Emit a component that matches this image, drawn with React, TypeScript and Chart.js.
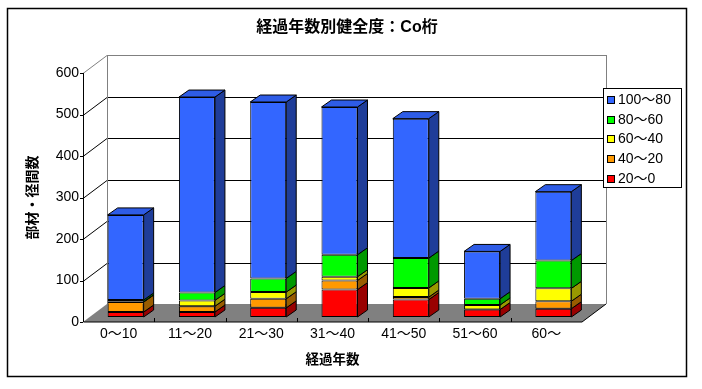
import React, { useEffect, useRef } from "react";
import { Chart, registerables } from "chart.js";

Chart.register(...registerables);

const categories = ["0～10", "11～20", "21～30", "31～40", "41～50", "51～60", "60～"];
const seriesLabels = ["20～0", "40～20", "60～40", "80～60", "100～80"];
const s20to0 = [12, 12, 22, 66, 42, 18, 20];
const s40to20 = [24, 14, 22, 22, 6, 0, 18];
const s60to40 = [1, 14, 16, 9, 22, 11, 31];
const s80to60 = [4, 19, 33, 53, 72, 15, 67];
const s100to80 = [205, 471, 425, 356, 336, 114, 166];
const yTicks = [0, 100, 200, 300, 400, 500, 600];

const frontColors = ["#FF0000", "#FF9900", "#FFFF00", "#00FF00", "#3366FF"];
const sideColors = ["#990000", "#995C00", "#999900", "#009900", "#1F3D99"];
const topColor = "#2E5CE6";

const FONT = "'Liberation Sans', 'Noto Sans CJK JP', sans-serif";
const DX = 24, DY = 18; // full floor depth
const BX = 7, BY = 5; // bar front offset from axis plane
const SX = 10, SY = 7; // bar depth

const threeD = {
  id: "threeD",
  beforeDraw(chart: any) {
    const ctx = chart.ctx;
    ctx.save();
    ctx.fillStyle = "#FFFFFF";
    ctx.fillRect(0, 0, chart.width, chart.height);
    ctx.strokeStyle = "#000";
    ctx.lineWidth = 1.5;
    ctx.strokeRect(7.5, 8.5, 679, 368);
    ctx.fillStyle = "#000";
    ctx.font = "bold 16px " + FONT;
    ctx.textAlign = "center";
    ctx.textBaseline = "middle";
    ctx.fillText("経過年数別健全度：Co桁", 347, 28);
    ctx.restore();
  },
  beforeDatasetsDraw(chart: any) {
    const ctx = chart.ctx;
    const { left, right, top, bottom } = chart.chartArea;
    const ys = chart.scales.y;
    ctx.save();
    ctx.fillStyle = "#808080";
    ctx.beginPath();
    ctx.moveTo(left, bottom);
    ctx.lineTo(right, bottom);
    ctx.lineTo(right + DX, bottom - DY);
    ctx.lineTo(left + DX, bottom - DY);
    ctx.closePath();
    ctx.fill();
    ctx.lineWidth = 1;
    yTicks.forEach((v) => {
      if (v === 0) return;
      const y = Math.round(ys.getPixelForValue(v)) + 0.5;
      ctx.strokeStyle = v === 600 ? "#808080" : "#000";
      ctx.beginPath();
      ctx.moveTo(left + DX, y - DY);
      ctx.lineTo(right + DX, y - DY);
      ctx.stroke();
      ctx.beginPath();
      ctx.moveTo(left, y);
      ctx.lineTo(left + DX, y - DY);
      ctx.stroke();
    });
    ctx.strokeStyle = "#808080";
    ctx.beginPath();
    ctx.moveTo(left + DX + 0.5, top - DY);
    ctx.lineTo(left + DX + 0.5, bottom - DY);
    ctx.moveTo(right + DX + 0.5, top - DY);
    ctx.lineTo(right + DX + 0.5, bottom - DY);
    ctx.stroke();
    ctx.strokeStyle = "#000";
    ctx.beginPath();
    ctx.moveTo(right, bottom);
    ctx.lineTo(right + DX, bottom - DY);
    ctx.stroke();
    ctx.beginPath();
    ctx.moveTo(left + 0.5, top);
    ctx.lineTo(left + 0.5, bottom);
    ctx.lineTo(right, bottom);
    ctx.stroke();
    yTicks.forEach((v) => {
      const y = Math.round(ys.getPixelForValue(v)) + 0.5;
      ctx.beginPath();
      ctx.moveTo(left - 3, y);
      ctx.lineTo(left, y);
      ctx.stroke();
    });
    const n = categories.length;
    for (let i = 1; i < n; i++) {
      const x = Math.round(left + ((right - left) * i) / n) + 0.5;
      ctx.beginPath();
      ctx.moveTo(x, bottom - 4);
      ctx.lineTo(x, bottom);
      ctx.stroke();
    }
    ctx.restore();
    ctx.save();
    ctx.translate(BX, -BY);
  },
  afterDatasetsDraw(chart: any) {
    const ctx = chart.ctx;
    ctx.lineWidth = 1;
    ctx.strokeStyle = "#000";
    const nDs = chart.data.datasets.length;
    for (let d = 0; d < nDs; d++) {
      const meta = chart.getDatasetMeta(d);
      meta.data.forEach((el: any, i: number) => {
        const v = chart.data.datasets[d].data[i];
        if (!v) return;
        const { x, y, base, width } = el.getProps(["x", "y", "base", "width"], true);
        const xr = x + width / 2;
        ctx.fillStyle = sideColors[d];
        ctx.beginPath();
        ctx.moveTo(xr, y);
        ctx.lineTo(xr + SX, y - SY);
        ctx.lineTo(xr + SX, base - SY);
        ctx.lineTo(xr, base);
        ctx.closePath();
        ctx.fill();
        ctx.stroke();
        let isTop = true;
        for (let k = d + 1; k < nDs; k++) if (chart.data.datasets[k].data[i]) isTop = false;
        if (isTop) {
          const xl = x - width / 2;
          ctx.fillStyle = topColor;
          ctx.beginPath();
          ctx.moveTo(xl, y);
          ctx.lineTo(xl + SX, y - SY);
          ctx.lineTo(xr + SX, y - SY);
          ctx.lineTo(xr, y);
          ctx.closePath();
          ctx.fill();
          ctx.stroke();
        }
      });
    }
    ctx.restore();
  },
  afterDraw(chart: any) {
    const ctx = chart.ctx;
    ctx.save();
    ctx.fillStyle = "#FFF";
    ctx.fillRect(603, 88, 78, 99);
    ctx.strokeStyle = "#000";
    ctx.lineWidth = 1;
    ctx.strokeRect(603.5, 88.5, 78, 99);
    ctx.font = "14px " + FONT;
    ctx.textBaseline = "middle";
    ctx.textAlign = "left";
    const nDs = chart.data.datasets.length;
    for (let j = 0; j < nDs; j++) {
      const d = nDs - 1 - j;
      const ds = chart.data.datasets[d];
      const cy = 100 + j * 19.7;
      ctx.fillStyle = ds.backgroundColor;
      ctx.fillRect(607, Math.round(cy - 4), 8, 8);
      ctx.strokeRect(607.5, Math.round(cy - 4) + 0.5, 7, 7);
      ctx.fillStyle = "#000";
      ctx.fillText(ds.label, 618, cy);
    }
    ctx.restore();
  },
};

export default function App() {
  const ref = useRef<HTMLCanvasElement>(null);
  useEffect(() => {
    if (!ref.current) return;
    const seriesData = [s20to0, s40to20, s60to40, s80to60, s100to80];
    const chart = new Chart(ref.current, {
      type: "bar",
      data: {
        labels: categories,
        datasets: seriesData.map((arr, i) => ({
          label: seriesLabels[i],
          data: arr,
          backgroundColor: frontColors[i],
          borderColor: "#000",
          borderWidth: 1,
          borderSkipped: false,
          categoryPercentage: 1,
          barPercentage: 0.505,
          clip: false as any,
        })),
      },
      options: {
        responsive: false,
        animation: false,
        layout: { padding: { left: 24, right: 120, top: 73, bottom: 17 } },
        plugins: { legend: { display: false }, title: { display: false }, tooltip: { enabled: false } },
        scales: {
          x: {
            stacked: true,
            grid: { display: false, drawTicks: false },
            border: { display: false },
            ticks: { color: "#000", font: { family: FONT, size: 14 }, padding: 4, maxRotation: 0 },
            title: { display: true, text: "経過年数", color: "#000", font: { family: FONT, size: 13.5, weight: "bold" }, padding: { top: 0, bottom: 4 } },
            afterFit: (s: any) => { s.height = 50; },
          },
          y: {
            stacked: true,
            min: 0,
            max: 600,
            grid: { display: false, drawTicks: false },
            border: { display: false },
            ticks: { stepSize: 100, color: "#000", font: { family: FONT, size: 14 }, padding: 4 },
            title: { display: true, text: "部材・径間数", color: "#000", font: { family: FONT, size: 14, weight: "bold" }, padding: { top: 0.6, bottom: 0 } },
            afterFit: (s: any) => { s.width = 59; },
          },
        },
      },
      plugins: [threeD],
    });
    return () => chart.destroy();
  }, []);
  return (
    <div style={{ position: "absolute", left: 0, top: 0, width: 702, height: 389 }}>
      <canvas ref={ref} width={702} height={389} style={{ display: "block" }} />
    </div>
  );
}
